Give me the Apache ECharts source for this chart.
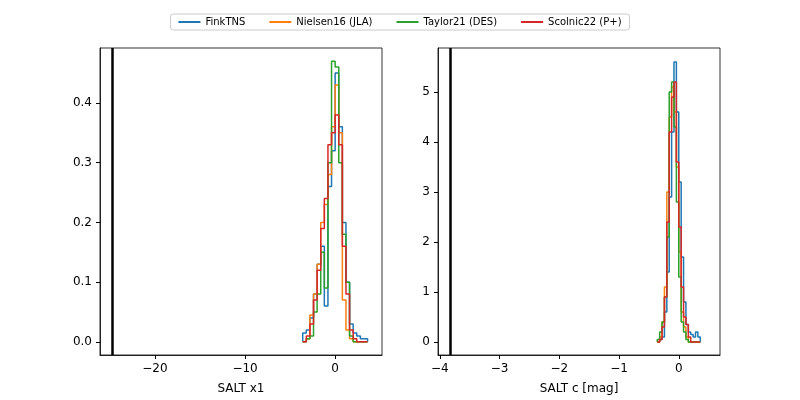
<!DOCTYPE html>
<html>
<head>
<meta charset="utf-8">
<script src="https://cdn.jsdelivr.net/npm/echarts@6/dist/echarts.min.js"></script>
<style>body{margin:0}#main{width:800px;height:400px}</style>
</head>
<body>
<div id="main"></div>
<script>
var names = ['FinkTNS', 'Nielsen16 (JLA)', 'Taylor21 (DES)', 'Scolnic22 (P+)'];
var colors = ['#1f77b4', '#ff7f0e', '#2ca02c', '#d62728'];

// SALT x1 histograms: first edge, bin width, densities
var x1Start = -3.6, x1Width = 0.4;
var x1Fink   = [0.015, 0.02, 0.04, 0.08, 0.13, 0.16, 0.06, 0.26, 0.32, 0.45, 0.36, 0.20, 0.10, 0.03, 0.015, 0.01, 0.005, 0.005];
var x1Niel   = [0, 0.005, 0.045, 0.08, 0.13, 0.20, 0.23, 0.28, 0.36, 0.43, 0.35, 0.07, 0.02, 0.005, 0, 0, 0, 0];
var x1Taylor = [0, 0.005, 0.01, 0.05, 0.08, 0.15, 0.09, 0.30, 0.47, 0.46, 0.30, 0.18, 0.10, 0.01, 0, 0, 0, 0];
var x1Scol   = [0, 0.01, 0.03, 0.07, 0.12, 0.19, 0.24, 0.33, 0.35, 0.38, 0.33, 0.16, 0.08, 0.02, 0.005, 0, 0, 0];
var x1Line = -24.7;
var x1Ticks = [-20, -10, 0];
var x1YTicks = [0, 0.1, 0.2, 0.3, 0.4];

// SALT c histograms
var cStart = -0.36, cWidth = 0.04;
var cFink   = [0, 0.05, 0.1, 0.6, 1.4, 2.9, 4.2, 5.6, 4.6, 3.2, 1.7, 0.8, 0.35, 0.2, 0.15, 0.1, 0.2, 0.1];
var cNiel   = [0, 0.1, 0.4, 1.1, 3.0, 4.5, 5.1, 4.6, 3.5, 1.8, 0.6, 0.3, 0.1, 0, 0, 0, 0, 0];
var cTaylor = [0.05, 0.2, 0.4, 0.9, 2.1, 5.0, 5.2, 4.3, 2.8, 1.3, 0.4, 0.2, 0.05, 0, 0, 0, 0, 0];
var cScol   = [0, 0.05, 0.3, 0.9, 2.4, 4.2, 4.9, 5.2, 3.6, 2.3, 1.1, 0.5, 0.35, 0.1, 0, 0, 0, 0];
var cLine = -3.82;
var cTicks = [-4, -3, -2, -1, 0];
var cYTicks = [0, 1, 2, 3, 4, 5];

function steps(start, w, vals) {
    var d = [[start, 0]];
    for (var i = 0; i < vals.length; i++) d.push([+(start + i * w).toFixed(4), vals[i]]);
    d.push([+(start + vals.length * w).toFixed(4), vals[vals.length - 1]]);
    d.push([+(start + vals.length * w).toFixed(4), 0]);
    return d;
}

var series = [];
var x1Sets = [x1Fink, x1Niel, x1Taylor, x1Scol];
var cSets = [cFink, cNiel, cTaylor, cScol];
for (var k = 0; k < 4; k++) {
    series.push({name: names[k], type: 'line', step: 'end', symbol: 'none', xAxisIndex: 0, yAxisIndex: 0,
        lineStyle: {width: 1.5, color: colors[k]}, itemStyle: {color: colors[k]}, data: steps(x1Start, x1Width, x1Sets[k])});
    series.push({name: names[k], type: 'line', step: 'end', symbol: 'none', xAxisIndex: 1, yAxisIndex: 1,
        lineStyle: {width: 1.5, color: colors[k]}, itemStyle: {color: colors[k]}, data: steps(cStart, cWidth, cSets[k])});
}
series.push({type: 'line', xAxisIndex: 0, yAxisIndex: 0, data: [], markLine: {symbol: 'none', silent: true, label: {show: false},
    lineStyle: {color: '#000', width: 2.5, type: 'solid'}, data: [{xAxis: x1Line}]}});
series.push({type: 'line', xAxisIndex: 1, yAxisIndex: 1, data: [], markLine: {symbol: 'none', silent: true, label: {show: false},
    lineStyle: {color: '#000', width: 2.5, type: 'solid'}, data: [{xAxis: cLine}]}});

var font = {color: '#000', fontSize: 12, fontFamily: 'DejaVu Sans'};
function mk(gi, min, max, ticks, fmt, extra) {
    return Object.assign({
        type: 'value', gridIndex: gi, min: min, max: max,
        axisLine: {show: true, onZero: false, lineStyle: {color: '#000', width: 0.8}},
        axisTick: {show: true, inside: false, length: 4, customValues: ticks, lineStyle: {color: '#000'}},
        axisLabel: Object.assign({customValues: ticks, formatter: fmt}, font),
        splitLine: {show: false}
    }, extra || {});
}
function minus(v) { return String(v).replace('-', '\u2212'); }

var chart = echarts.init(document.getElementById('main'));
chart.setOption({
    animation: false,
    backgroundColor: '#fff',
    legend: {
        top: 14, left: 'center', data: names, itemWidth: 22, itemHeight: 2, itemGap: 24,
        icon: 'rect', borderColor: '#ccc', borderWidth: 1, borderRadius: 3, padding: [3, 8],
        textStyle: {fontSize: 10, fontFamily: 'DejaVu Sans', color: '#000'}
    },
    grid: [
        {left: 100, top: 48, width: 282, height: 307, show: true, borderColor: '#000', borderWidth: 0.8},
        {left: 438, top: 48, width: 282, height: 307, show: true, borderColor: '#000', borderWidth: 0.8}
    ],
    xAxis: [
        mk(0, -26.1, 5.2, x1Ticks, minus, {name: 'SALT x1', nameLocation: 'middle', nameGap: 28, nameTextStyle: font}),
        mk(1, -4.03, 0.69, cTicks, minus, {name: 'SALT c [mag]', nameLocation: 'middle', nameGap: 28, nameTextStyle: font})
    ],
    yAxis: [
        mk(0, -0.022, 0.492, x1YTicks, function (v) { return v.toFixed(1); }),
        mk(1, -0.26, 5.88, cYTicks, function (v) { return String(v); })
    ],
    series: series
});
</script>
</body>
</html>
